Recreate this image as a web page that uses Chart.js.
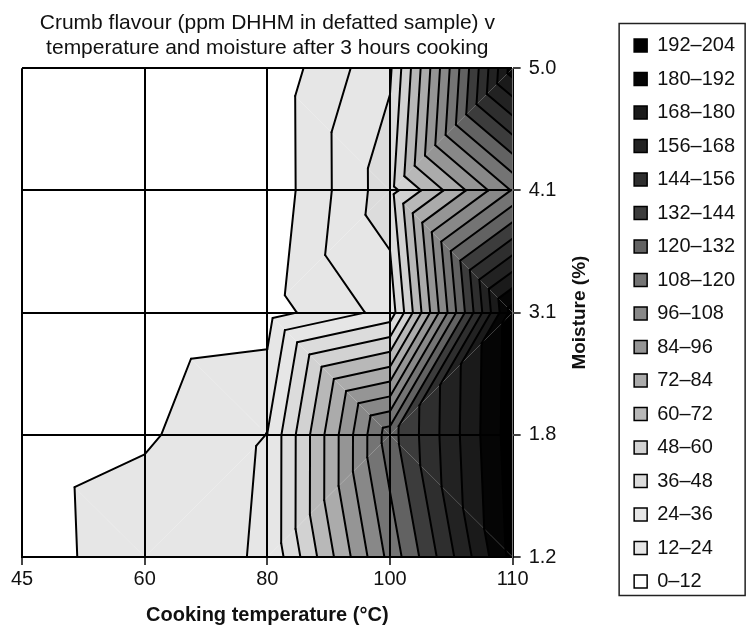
<!DOCTYPE html>
<html>
<head>
<meta charset="utf-8">
<script src="https://cdn.jsdelivr.net/npm/chart.js@4.4.1/dist/chart.umd.min.js"></script>
<style>
  html, body { margin: 0; padding: 0; background: #fff; }
  #wrap { width: 750px; height: 627px; }
</style>
</head>
<body>
<div id="wrap"><canvas id="chart"></canvas></div>
<script>
// Crumb flavour (ppm DHHM) on a temperature x moisture grid, drawn as filled contours
const temperatures = ['45', '60', '80', '100', '110'];
const moistures = ['5.0', '4.1', '3.1', '1.8', '1.2'];

// one row per moisture level, one value per temperature
const dhhmAt50 = [2, 3, 2.8, 34, 186];
const dhhmAt41 = [2, 2.5, 2.6, 43.3, 109];
const dhhmAt31 = [2, 4.6, 6.8, 28.4, 198];
const dhhmAt18 = [4.5, 10.1, 24.2, 127, 199];
const dhhmAt12 = [3.8, 22, 24.4, 112, 196];

// mesh diagonal per cell: 1 = top-left to bottom-right, 0 = top-right to bottom-left
const cellDiagonal = [
  [1, 1, 1, 0],
  [1, 1, 0, 1],
  [1, 1, 1, 0],
  [1, 0, 0, 1],
];

const bandStep = 12;
const bandColours = [
  '#ffffff', '#e6e6e6', '#e6e6e6', '#dcdcdc', '#d2d2d2', '#b8b8b8',
  '#ababab', '#959595', '#888888', '#747474', '#626262', '#3c3c3c',
  '#2e2e2e', '#222222', '#1a1a1a', '#050505', '#000000',
];

const surface = [dhhmAt50, dhhmAt41, dhhmAt31, dhhmAt18, dhhmAt12];

Chart.defaults.font.family = '"Liberation Sans", Arial, sans-serif';
Chart.defaults.color = '#111';

// keep the part of a polygon on one side of a contour level
function clipLevel(poly, level, keepAbove) {
  const out = [];
  for (let i = 0; i < poly.length; i++) {
    const a = poly[i], b = poly[(i + 1) % poly.length];
    const inA = keepAbove ? a.v >= level : a.v <= level;
    const inB = keepAbove ? b.v >= level : b.v <= level;
    if (inA) out.push(a);
    if (inA !== inB) {
      const t = (level - a.v) / (b.v - a.v);
      out.push({ x: a.x + t * (b.x - a.x), y: a.y + t * (b.y - a.y), v: level });
    }
  }
  return out;
}

function meshTriangles(chart) {
  const { x, y } = chart.scales;
  const node = (c, r) => ({ x: x.getPixelForValue(c), y: y.getPixelForValue(r), v: surface[r][c] });
  const tris = [];
  for (let r = 0; r < surface.length - 1; r++) {
    for (let c = 0; c < surface[r].length - 1; c++) {
      const tl = node(c, r), tr = node(c + 1, r), bl = node(c, r + 1), br = node(c + 1, r + 1);
      if (cellDiagonal[r][c]) tris.push([tl, tr, br], [tl, br, bl]);
      else tris.push([tl, tr, bl], [tr, br, bl]);
    }
  }
  return tris;
}

const contourPlugin = {
  id: 'contour',
  beforeDatasetsDraw(chart) {
    const { ctx, chartArea } = chart;
    const tris = meshTriangles(chart);
    ctx.save();
    ctx.beginPath();
    ctx.rect(chartArea.left, chartArea.top, chartArea.right - chartArea.left, chartArea.bottom - chartArea.top);
    ctx.clip();

    // filled bands, one polygon per triangle and band
    tris.forEach(tri => {
      bandColours.forEach((colour, i) => {
        let poly = clipLevel(tri, i * bandStep, true);
        if (poly.length > 2) poly = clipLevel(poly, (i + 1) * bandStep, false);
        if (poly.length < 3) return;
        ctx.beginPath();
        poly.forEach((p, k) => (k ? ctx.lineTo(p.x, p.y) : ctx.moveTo(p.x, p.y)));
        ctx.closePath();
        ctx.fillStyle = colour;
        ctx.fill();
      });
    });

    // contour lines
    ctx.strokeStyle = '#000';
    ctx.lineWidth = 2;
    ctx.lineCap = 'round';
    for (let i = 1; i < bandColours.length; i++) {
      const level = i * bandStep;
      tris.forEach(tri => {
        const pts = [];
        for (let k = 0; k < 3; k++) {
          const a = tri[k], b = tri[(k + 1) % 3];
          if ((a.v - level) * (b.v - level) < 0) {
            const t = (level - a.v) / (b.v - a.v);
            pts.push([a.x + t * (b.x - a.x), a.y + t * (b.y - a.y)]);
          }
        }
        if (pts.length === 2) {
          ctx.beginPath();
          ctx.moveTo(pts[0][0], pts[0][1]);
          ctx.lineTo(pts[1][0], pts[1][1]);
          ctx.stroke();
        }
      });
    }
    ctx.restore();
  },
  afterDraw(chart) {
    const { ctx, chartArea, legend } = chart;
    ctx.save();
    // y axis title, reading upwards
    ctx.translate(580, (chartArea.top + chartArea.bottom) / 2);
    ctx.rotate(-Math.PI / 2);
    ctx.font = 'bold 19px "Liberation Sans", Arial, sans-serif';
    ctx.fillStyle = '#111';
    ctx.textAlign = 'center';
    ctx.textBaseline = 'middle';
    ctx.fillText('Moisture (%)', 0, 0);
    ctx.restore();

    // frame round the legend
    const boxes = legend.legendHitBoxes;
    const first = boxes[0], last = boxes[boxes.length - 1];
    ctx.save();
    ctx.strokeStyle = '#222';
    ctx.lineWidth = 1.5;
    ctx.strokeRect(first.left - 15, first.top - 12, 126, last.top - first.top + 36);
    ctx.restore();
  },
};

const bandDatasets = bandColours.map((colour, i) => ({
  label: `${i * bandStep}\u2013${(i + 1) * bandStep}`,
  data: [],
  backgroundColor: colour,
  borderColor: '#000',
  borderWidth: 1.5,
})).reverse();

new Chart(document.getElementById('chart'), {
  type: 'line',
  data: { labels: temperatures, datasets: bandDatasets },
  plugins: [contourPlugin],
  options: {
    responsive: true,
    maintainAspectRatio: false,
    animation: false,
    events: [],
    layout: { padding: { left: 22, right: 5, top: 0, bottom: 0 } },
    plugins: {
      title: {
        display: true,
        fullSize: false,
        text: ['Crumb flavour (ppm DHHM in defatted sample) v',
               'temperature and moisture after 3 hours cooking'],
        font: { size: 21, weight: 'normal', lineHeight: 1.22 },
        color: '#111',
        padding: { top: 10, bottom: 7 },
      },
      legend: {
        position: 'right',
        labels: {
          boxWidth: 13,
          boxHeight: 13,
          padding: 13.5,
          font: { size: 20 },
          color: '#111',
        },
      },
      tooltip: { enabled: false },
    },
    scales: {
      x: {
        type: 'category',
        labels: temperatures,
        offset: false,
        grid: { color: '#000', lineWidth: 2, tickLength: 8, tickColor: '#444', z: 1 },
        border: { color: '#000', width: 2, z: 2 },
        ticks: { font: { size: 20 }, color: '#111', padding: 2, maxRotation: 0, autoSkip: false, z: 2 },
        title: {
          display: true,
          text: 'Cooking temperature (\u00b0C)',
          font: { size: 20, weight: 'bold' },
          color: '#111',
          padding: { top: 6, bottom: 0 },
        },
        afterFit: (s) => { s.height = 70; },
      },
      y: {
        type: 'category',
        labels: moistures,
        position: 'right',
        offset: false,
        grid: { color: '#000', lineWidth: 2, tickLength: 8, tickColor: '#444', z: 1 },
        border: { color: '#777', width: 1, z: 2 },
        ticks: { font: { size: 20 }, color: '#111', padding: 8, autoSkip: false, z: 2 },
        afterFit: (s) => { s.width = 108; },
      },
    },
  },
});
</script>
</body>
</html>
